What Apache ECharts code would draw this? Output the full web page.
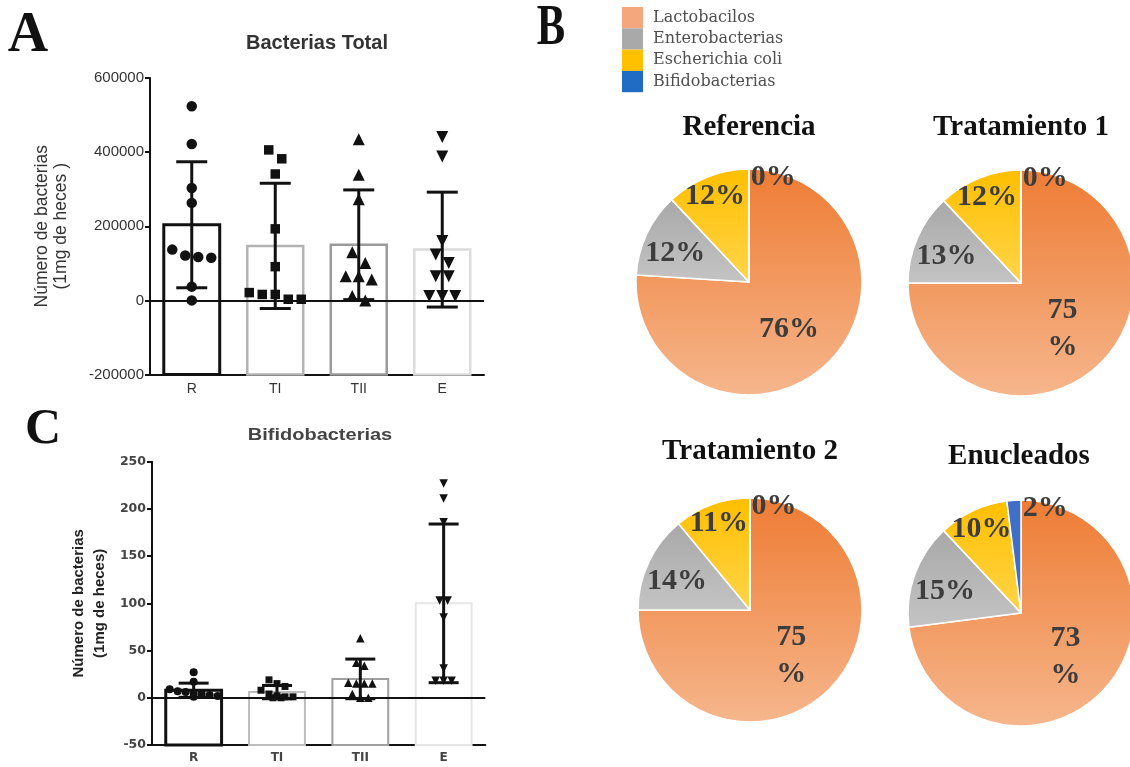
<!DOCTYPE html>
<html><head><meta charset="utf-8">
<script src="https://cdn.jsdelivr.net/npm/echarts@6/dist/echarts.min.js"></script>
<style>html,body{margin:0;padding:0;background:#fff}#c{width:1130px;height:767px}</style>
</head><body><div id="c"></div>
<script>
// ---------- data ----------
const groups = ['R', 'TI', 'TII', 'E'];

// Panel A: Bacterias Total
const totalMeans = [204000, 147000, 150000, 137000];
const totalSD = [170000, 169000, 148000, 155000];
const totalR = [524000, 422000, 303000, 263000, 137000, 121000, 117000, 115000, 37000, 0];
const totalTI = [406000, 382000, 341000, 193000, 91000, 21000, 16000, 16000, 3000, 3000];
const totalTII = [435000, 339000, 273000, 130000, 101000, 65000, 65000, 56000, 12000, 0];
const totalE = [441000, 388000, 160000, 124000, 101000, 65000, 65000, 12000, 12000, 12000];

// Panel C: Bifidobacterias
const bifMeans = [8, 6, 20, 100];
const bifSD = [7.5, 7, 21, 84];
const bifR = [27, 17, 9, 7, 6, 5, 4, 3, 2, 1];
const bifTI = [19, 15, 12, 8, 4, 2, 1, 1, 0, 0];
const bifTII = [63, 37, 34, 16, 15, 15, 15, 4, 0, 0];
const bifE = [227, 211, 186, 103, 103, 85, 31, 18, 18, 18];

// Panel B: composition (%)
const pieNames = ['Lactobacilos', 'Enterobacterias', 'Escherichia coli', 'Bifidobacterias'];
const pieTitles = ['Referencia', 'Tratamiento 1', 'Tratamiento 2', 'Enucleados'];
const pieRef = [76, 12, 12, 0];
const pieT1 = [75, 13, 12, 0];
const pieT2 = [75, 14, 11, 0];
const pieEnu = [73, 15, 10, 2];

// ---------- layout / style ----------
const gridA = {left: 150, top: 78, width: 334, height: 296.5};
const gridC = {left: 152, top: 461.7, width: 333.3, height: 283.3};
const rangeA = {min: -200000, max: 600000, interval: 200000};
const rangeC = {min: -50, max: 250, interval: 50};
const barStyleA = [{c: '#111', w: 3}, {c: '#b3b3b3', w: 2.5}, {c: '#9a9a9a', w: 2.5}, {c: '#dcdcdc', w: 2.5}];
const barStyleC = [{c: '#111', w: 3}, {c: '#bdbdbd', w: 2}, {c: '#a0a0a0', w: 2}, {c: '#e6e6e6', w: 2}];
const symbols = ['circle', 'rect', 'triangle', 'triangle'];
const symRot = [0, 0, 0, 180];
const symSizeA = [10.5, 9.5, 12, 12];
const symSizeC = [8, 7, 8.5, 8.5];

const pieCenters = [[749, 282], [1021, 283], [750, 610], [1021, 613]];
const pieRadius = [113, 113, 112, 113];
const pieWrapMain = [false, true, true, true];
const labelFrac = [0.55, 0.7, 0.82, 0.95];
const labelShift = [3, -4, 0, 13];

const G = echarts.graphic;
const pieFill = [
  new G.LinearGradient(0, 0, 0, 1, [{offset: 0, color: '#ee7c34'}, {offset: 1, color: '#f6b68c'}]),
  new G.LinearGradient(0, 0, 0, 1, [{offset: 0, color: '#a8a8a8'}, {offset: 1, color: '#c4c4c4'}]),
  new G.LinearGradient(0, 0, 0, 1, [{offset: 0, color: '#ffbf00'}, {offset: 1, color: '#ffd54a'}]),
  '#3f6fc6'
];
const legendColors = ['#f4a67c', '#a9a9a9', '#ffc000', '#1f6cc4'];

// ---------- helpers ----------
function swarm(vals, pxPerUnit, thresh, spacing) {
  const idx = vals.map((v, i) => i).sort((a, b) => vals[b] - vals[a]);
  const off = new Array(vals.length).fill(0);
  let row = [];
  const flush = () => { row.forEach((k, j) => { off[k] = (j - (row.length - 1) / 2) * spacing; }); row = []; };
  idx.forEach(k => {
    if (row.length && (vals[row[0]] - vals[k]) * pxPerUnit > thresh) flush();
    row.push(k);
  });
  flush();
  return off;
}
function barRender(styles, minVal) {
  return function (params, api) {
    const i = api.value(0), v = api.value(1);
    const top = api.coord([i, v]), bot = api.coord([i, minVal]);
    const bw = api.size([1, 0])[0] * 0.67;
    const st = styles[i];
    return {type: 'rect', shape: {x: top[0] - bw / 2, y: top[1], width: bw, height: bot[1] - top[1]},
      style: {fill: '#fff', stroke: st.c, lineWidth: st.w}};
  };
}
function errRender(capW, lw) {
  return function (params, api) {
    const i = api.value(0), lo = api.value(1), hi = api.value(2);
    const p1 = api.coord([i, hi]), p2 = api.coord([i, lo]);
    const st = {stroke: '#111', lineWidth: lw};
    return {type: 'group', children: [
      {type: 'line', shape: {x1: p1[0], y1: p1[1], x2: p2[0], y2: p2[1]}, style: st},
      {type: 'line', shape: {x1: p1[0] - capW / 2, y1: p1[1], x2: p1[0] + capW / 2, y2: p1[1]}, style: st},
      {type: 'line', shape: {x1: p2[0] - capW / 2, y1: p2[1], x2: p2[0] + capW / 2, y2: p2[1]}, style: st}
    ]};
  };
}
function panelSeries(ax, means, sd, pts, styles, range, grid, sizes, swarmCfg, capW, lw) {
  const pxPerUnit = grid.height / (range.max - range.min);
  const out = [];
  out.push({type: 'custom', xAxisIndex: ax, yAxisIndex: ax, z: 2, silent: true,
    renderItem: barRender(styles, range.min), encode: {x: 0, y: 1},
    data: means.map((m, i) => [i, m])});
  out.push({type: 'custom', xAxisIndex: ax, yAxisIndex: ax, z: 3, silent: true,
    renderItem: errRender(capW, lw), encode: {x: 0, y: [1, 2]},
    data: means.map((m, i) => [i, m - sd[i], m + sd[i]])});
  pts.forEach((vals, gi) => {
    const off = swarm(vals, pxPerUnit, swarmCfg.thresh, swarmCfg.spacing);
    const s = {type: 'scatter', xAxisIndex: ax, yAxisIndex: ax, z: 4, silent: true,
      symbol: symbols[gi], symbolRotate: symRot[gi], symbolSize: sizes[gi],
      itemStyle: {color: '#111', opacity: 1},
      data: vals.map((v, k) => ({value: [gi, v], symbolOffset: [off[k], 0]}))};
    if (gi === 0) {
      s.markLine = {silent: true, symbol: 'none', label: {show: false},
        lineStyle: {color: '#111', width: 2, type: 'solid'}, data: [{yAxis: 0}], animation: false};
    }
    out.push(s);
  });
  return out;
}
function pieSeries(k, vals) {
  const cx = pieCenters[k][0], cy = pieCenters[k][1], R = pieRadius[k];
  const total = vals.reduce((a, b) => a + b, 0);
  let acc = 0;
  const anchors = vals.map((v, i) => {
    const a0 = acc / total * 360; acc += v; const a1 = acc / total * 360;
    const last = i === vals.length - 1;
    const ang = (last ? a1 : (a0 + a1) / 2) + labelShift[i];
    const r = R * labelFrac[i], rad = ang * Math.PI / 180;
    return [cx + r * Math.sin(rad), cy - r * Math.cos(rad)];
  });
  return {type: 'pie', center: [cx, cy], radius: R, startAngle: 90, clockwise: true,
    avoidLabelOverlap: false, silent: true, animation: false,
    data: vals.map((v, i) => ({name: pieNames[i], value: v, itemStyle: {color: pieFill[i]}})),
    itemStyle: {borderColor: '#fff', borderWidth: 1.5},
    label: {show: true, position: 'inside',
      formatter: p => (pieWrapMain[k] && p.dataIndex === 0) ? p.value + '\n%' : p.value + '%',
      fontFamily: 'Liberation Serif', fontSize: 30, fontWeight: 'bold', color: '#3d3d3d', lineHeight: 37},
    labelLine: {show: false},
    labelLayout: p => ({x: anchors[p.dataIndex][0], y: anchors[p.dataIndex][1], align: 'center', verticalAlign: 'middle'}),
    emphasis: {disabled: true}
  };
}
function txt(text, x, y, size, weight, family, color, extra) {
  return Object.assign({type: 'text', x: x, y: y, silent: true, z: 10,
    style: {text: text, fontSize: size, fontWeight: weight, fontFamily: family, fill: color,
      align: 'center', verticalAlign: 'middle', textAlign: 'center', textVerticalAlign: 'middle'}}, extra || {});
}

// ---------- option ----------
const axisLineStyle = {color: '#111', width: 2};
const option = {
  animation: false,
  backgroundColor: '#fff',
  grid: [Object.assign({}, gridA), Object.assign({}, gridC)],
  xAxis: [
    {gridIndex: 0, type: 'category', data: groups, boundaryGap: true,
      axisLine: {onZero: false, lineStyle: axisLineStyle},
      axisTick: {alignWithLabel: true, length: 5, lineStyle: axisLineStyle},
      axisLabel: {fontSize: 14, color: '#333', margin: 8, fontFamily: 'Liberation Sans'}},
    {gridIndex: 1, type: 'category', data: groups, boundaryGap: true,
      axisLine: {onZero: false, lineStyle: axisLineStyle},
      axisTick: {alignWithLabel: true, length: 5, lineStyle: axisLineStyle},
      axisLabel: {fontSize: 12, color: '#444', margin: 7, fontWeight: 'bold', fontFamily: 'DejaVu Sans'}}
  ],
  yAxis: [
    {gridIndex: 0, type: 'value', min: rangeA.min, max: rangeA.max, interval: rangeA.interval,
      axisLine: {show: true, lineStyle: axisLineStyle},
      axisTick: {show: true, length: 5, lineStyle: axisLineStyle},
      splitLine: {show: false},
      axisLabel: {fontSize: 15, color: '#333', margin: 6, fontFamily: 'Liberation Sans', formatter: v => String(v)},
      name: 'Número de bacterias\n(1mg de heces )', nameLocation: 'middle', nameGap: 79,
      nameTextStyle: {fontSize: 17.5, lineHeight: 19, color: '#333', fontFamily: 'Liberation Sans'}},
    {gridIndex: 1, type: 'value', min: rangeC.min, max: rangeC.max, interval: rangeC.interval,
      axisLine: {show: true, lineStyle: axisLineStyle},
      axisTick: {show: true, length: 5, lineStyle: axisLineStyle},
      splitLine: {show: false},
      axisLabel: {fontSize: 12.5, color: '#444', margin: 6, fontWeight: 'bold', fontFamily: 'DejaVu Sans', formatter: v => String(v)},
      name: 'Número de bacterias\n(1mg de heces)', nameLocation: 'middle', nameGap: 42,
      nameTextStyle: {fontSize: 15, lineHeight: 21, color: '#222', fontWeight: 'bold', fontFamily: 'Liberation Sans'}}
  ],
  legend: {orient: 'vertical', left: 622, top: 7, padding: 0, itemWidth: 21, itemHeight: 21.3, itemGap: 0,
    icon: 'rect', selectedMode: false,
    itemStyle: {borderWidth: 0},
    textStyle: {fontFamily: 'DejaVu Serif', fontSize: 16, lineHeight: 21, color: '#4f4f4f', padding: [0, 0, 0, 5]},
    data: pieNames.map((n, i) => ({name: n, itemStyle: {color: legendColors[i], borderWidth: 0}}))},
  graphic: [
    txt('A', 28, 37, 56, 'bold', 'Liberation Serif', '#111'),
    txt('B', 551, 30, 56, 'bold', 'Liberation Serif', '#111', {scaleX: 0.76}),
    txt('C', 43, 430, 50, 'bold', 'Liberation Serif', '#111'),
    txt('Bacterias Total', 317, 43, 20, 'bold', 'Liberation Sans', '#333'),
    txt('Bifidobacterias', 320, 435, 20, 'bold', 'Liberation Sans', '#444', {scaleY: 0.85}),
    txt(pieTitles[0], 749, 128, 29, 'bold', 'Liberation Serif', '#111'),
    txt(pieTitles[1], 1021, 128, 29, 'bold', 'Liberation Serif', '#111'),
    txt(pieTitles[2], 750, 452, 29, 'bold', 'Liberation Serif', '#111'),
    txt(pieTitles[3], 1019, 457, 29, 'bold', 'Liberation Serif', '#111')
  ],
  series: [].concat(
    panelSeries(0, totalMeans, totalSD, [totalR, totalTI, totalTII, totalE], barStyleA, rangeA, gridA, symSizeA, {thresh: 12, spacing: 13}, 31, 3),
    panelSeries(1, bifMeans, bifSD, [bifR, bifTI, bifTII, bifE], barStyleC, rangeC, gridC, symSizeC, {thresh: 7, spacing: 8}, 30, 3),
    [pieSeries(0, pieRef), pieSeries(1, pieT1), pieSeries(2, pieT2), pieSeries(3, pieEnu)]
  )
};
const chart = echarts.init(document.getElementById('c'), null, {renderer: 'canvas'});
chart.setOption(option);
</script>
</body></html>
